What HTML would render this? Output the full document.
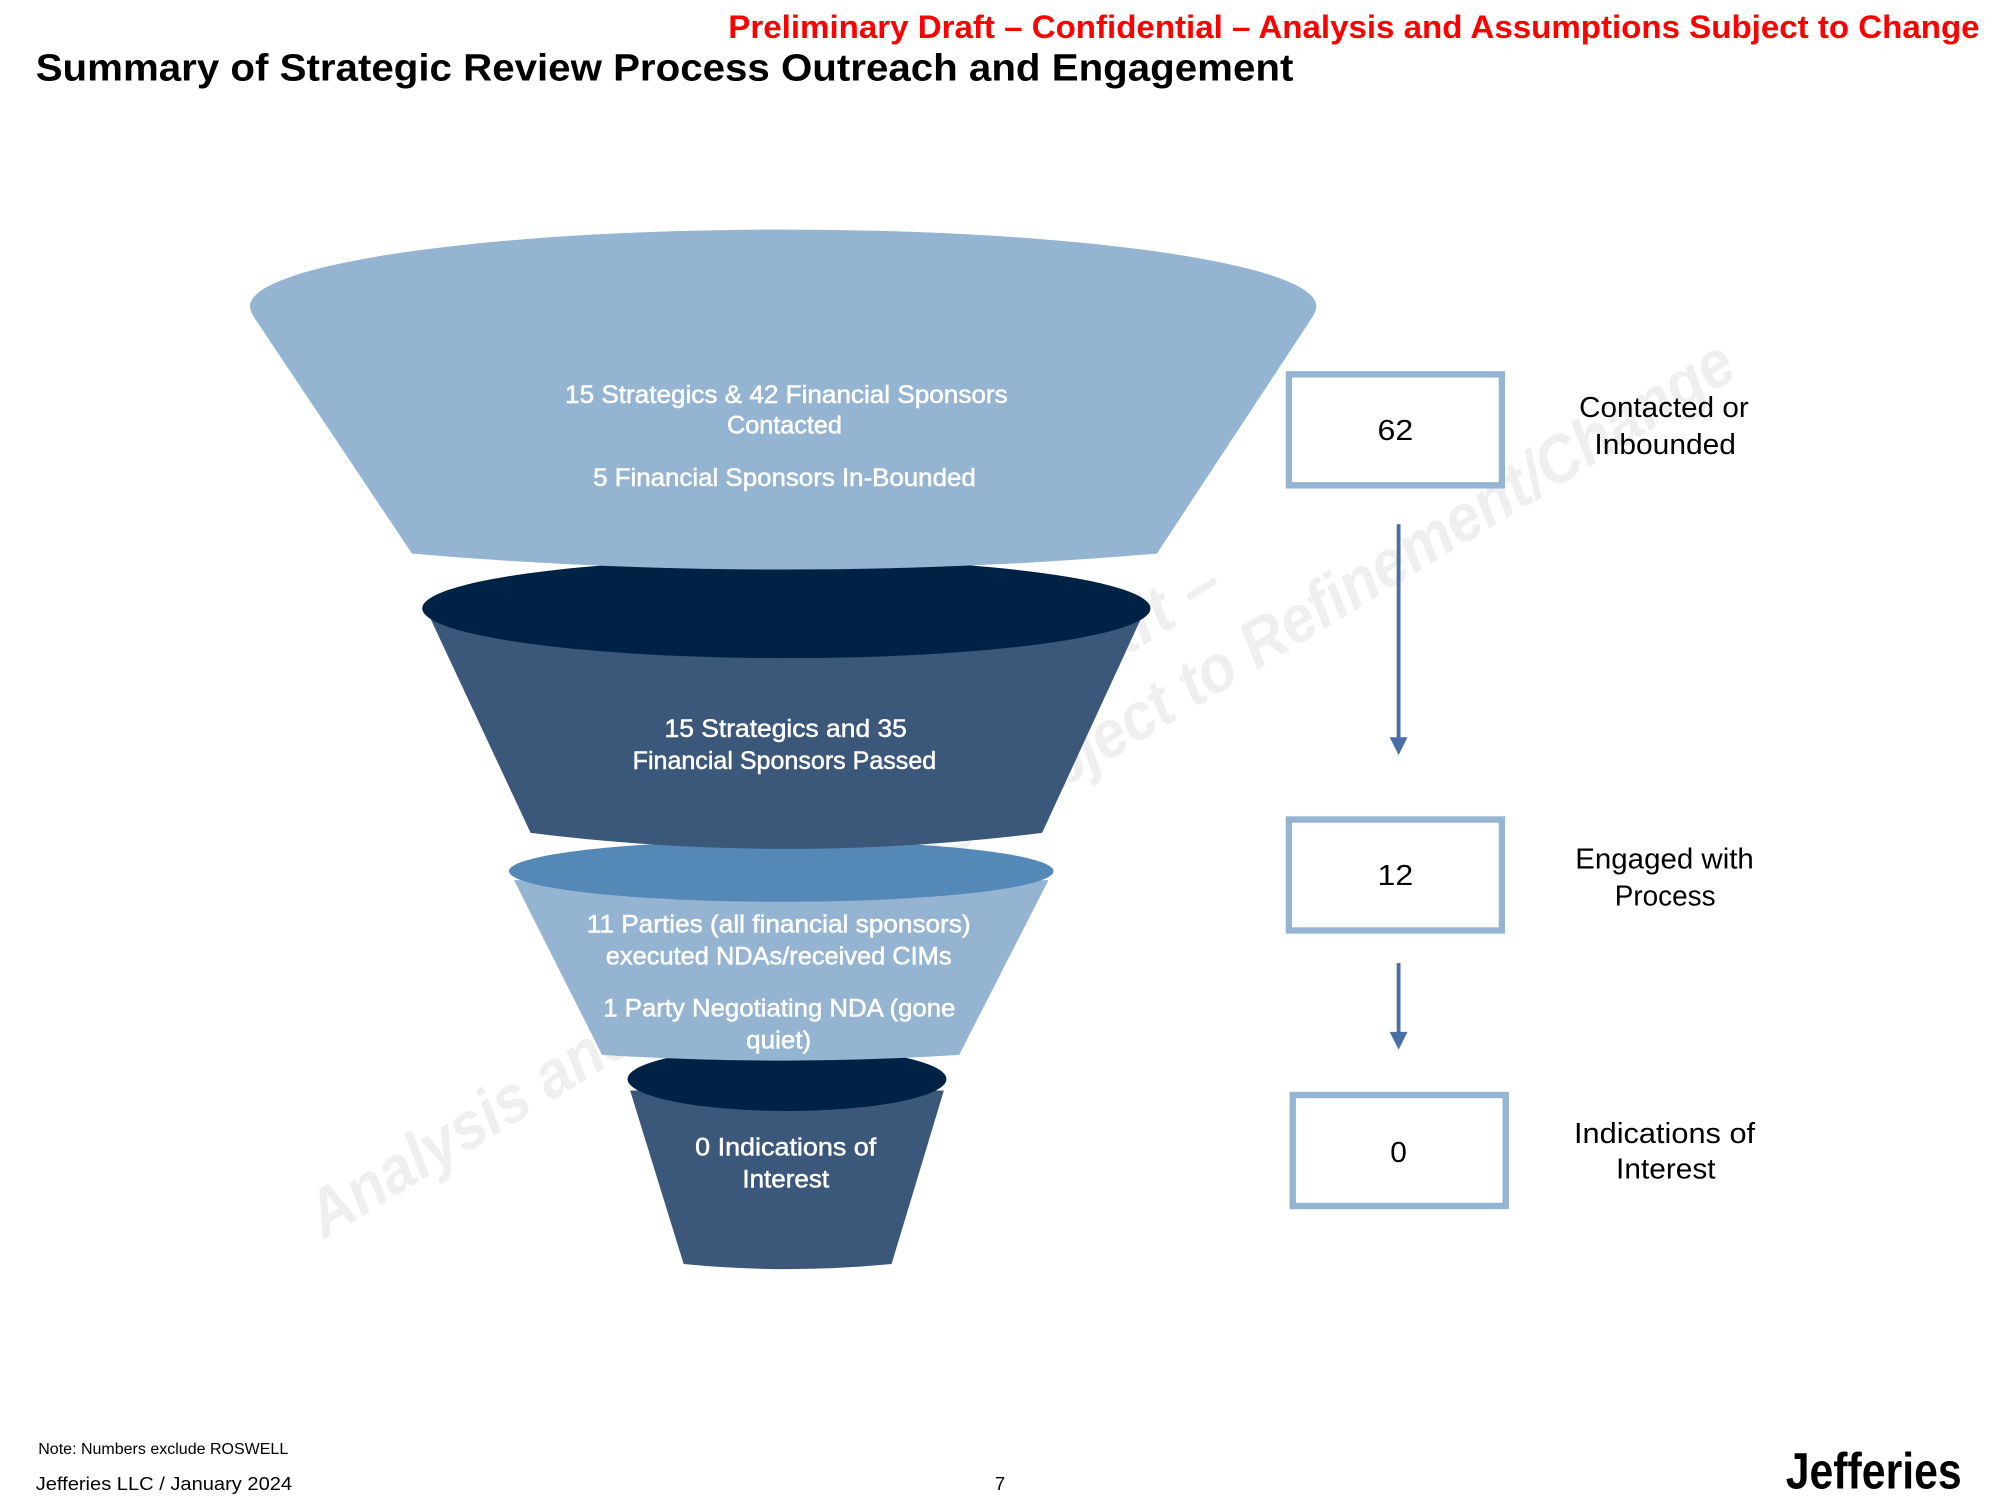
<!DOCTYPE html>
<html lang="en">
<head>
<meta charset="utf-8">
<title>Summary of Strategic Review Process Outreach and Engagement</title>
<style>
html,body{margin:0;padding:0;background:#fff;width:2000px;height:1500px;overflow:hidden}
svg{display:block}
text{font-family:"Liberation Sans",Arial,sans-serif}
.w{fill:#fff;font-size:19.5px;stroke:#fff;stroke-width:.4px}
.k{fill:#000;font-size:22.5px}
.wm{fill:#EFEFEF;font-size:52px;font-weight:bold;font-style:italic}
</style>
</head>
<body>
<svg width="2000" height="1500" viewBox="0 0 1568 1176" preserveAspectRatio="none" xmlns="http://www.w3.org/2000/svg">
<rect width="1568" height="1176" fill="#fff"/>

<!-- watermark -->
<text class="wm" transform="translate(809 633) rotate(-31.4)" text-anchor="middle" textLength="1300" lengthAdjust="spacingAndGlyphs">Analysis and Assumptions Subject to Refinement/Change</text>
<text class="wm" transform="translate(962 466) rotate(-31.4)" text-anchor="end">Preliminary Draft –</text>

<!-- header -->
<text x="571" y="30" font-size="25.5" font-weight="bold" fill="#FF0000" textLength="981" lengthAdjust="spacingAndGlyphs">Preliminary Draft – Confidential – Analysis and Assumptions Subject to Change</text>
<text x="28" y="63" font-size="30" font-weight="bold" fill="#000" textLength="986" lengthAdjust="spacingAndGlyphs">Summary of Strategic Review Process Outreach and Engagement</text>

<!-- funnel 4 -->
<path d="M494 855 L536 991 Q617 999 699 991 L740 855 Z" fill="#3B5779"/>
<ellipse cx="617" cy="846" rx="125" ry="25" fill="#002245"/>
<!-- funnel 3 -->
<path d="M403 690 L472 827 Q612 836 752 827 L822 690 Z" fill="#94B4D2"/>
<ellipse cx="612.500" cy="683" rx="213.500" ry="24" fill="#5388B7"/>
<!-- funnel 2 -->
<path d="M337 484 L416 653 Q616 678 817 653 L895 484 Z" fill="#3B5779"/>
<ellipse cx="616.500" cy="477" rx="285.500" ry="39" fill="#002245"/>
<!-- funnel 1 -->
<path d="M196 240 A418 60 0 0 1 1032 240 Q1032 244 1028 250 L907 434 Q614 459 323 434 L200 250 Q196 244 196 240 Z" fill="#94B4D2"/>

<!-- funnel text -->
<text class="w" x="443" y="316" textLength="347" lengthAdjust="spacingAndGlyphs">15 Strategics &amp; 42 Financial Sponsors</text>
<text class="w" x="570" y="340" textLength="90" lengthAdjust="spacingAndGlyphs">Contacted</text>
<text class="w" x="465" y="381" textLength="300" lengthAdjust="spacingAndGlyphs">5 Financial Sponsors In-Bounded</text>
<text class="w" x="521" y="578" textLength="190" lengthAdjust="spacingAndGlyphs">15 Strategics and 35</text>
<text class="w" x="496" y="603" textLength="238" lengthAdjust="spacingAndGlyphs">Financial Sponsors Passed</text>
<text class="w" x="460" y="731" textLength="301" lengthAdjust="spacingAndGlyphs">11 Parties (all financial sponsors)</text>
<text class="w" x="475" y="756" textLength="271" lengthAdjust="spacingAndGlyphs">executed NDAs/received CIMs</text>
<text class="w" x="473" y="797" textLength="276" lengthAdjust="spacingAndGlyphs">1 Party Negotiating NDA (gone</text>
<text class="w" x="585" y="822" textLength="51" lengthAdjust="spacingAndGlyphs">quiet)</text>
<text class="w" x="545" y="906" textLength="142" lengthAdjust="spacingAndGlyphs">0 Indications of</text>
<text class="w" x="582" y="931" textLength="68" lengthAdjust="spacingAndGlyphs">Interest</text>

<!-- boxes -->
<rect x="1010.500" y="293.500" width="167" height="87" fill="#fff" stroke="#94B4D2" stroke-width="5"/>
<rect x="1010.500" y="642.500" width="167" height="87" fill="#fff" stroke="#94B4D2" stroke-width="5"/>
<rect x="1013.500" y="858.500" width="167" height="87" fill="#fff" stroke="#94B4D2" stroke-width="5"/>
<text class="k" x="1080" y="345" textLength="28" lengthAdjust="spacingAndGlyphs">62</text>
<text class="k" x="1080" y="694" textLength="28" lengthAdjust="spacingAndGlyphs">12</text>
<text class="k" x="1090" y="911" textLength="13" lengthAdjust="spacingAndGlyphs">0</text>

<!-- arrows -->
<path d="M1096.500 411 V580" stroke="#4A6FA5" stroke-width="3" fill="none"/>
<path d="M1089.500 578 H1103.500 L1096.500 592 Z" fill="#4A6FA5"/>
<path d="M1096.500 755 V811" stroke="#4A6FA5" stroke-width="3" fill="none"/>
<path d="M1089.500 809 H1103.500 L1096.500 823 Z" fill="#4A6FA5"/>

<!-- right labels -->
<text class="k" x="1238" y="327" textLength="133" lengthAdjust="spacingAndGlyphs">Contacted or</text>
<text class="k" x="1250" y="356" textLength="111" lengthAdjust="spacingAndGlyphs">Inbounded</text>
<text class="k" x="1235" y="681" textLength="140" lengthAdjust="spacingAndGlyphs">Engaged with</text>
<text class="k" x="1266" y="710" textLength="79" lengthAdjust="spacingAndGlyphs">Process</text>
<text class="k" x="1234" y="896" textLength="142" lengthAdjust="spacingAndGlyphs">Indications of</text>
<text class="k" x="1267" y="924" textLength="78" lengthAdjust="spacingAndGlyphs">Interest</text>

<!-- footer -->
<text x="30" y="1140" font-size="12.500" fill="#000" textLength="196" lengthAdjust="spacingAndGlyphs">Note: Numbers exclude ROSWELL</text>
<text x="28" y="1168" font-size="14.500" fill="#000" textLength="201" lengthAdjust="spacingAndGlyphs">Jefferies LLC / January 2024</text>
<text x="780" y="1168" font-size="14.500" fill="#000" textLength="8" lengthAdjust="spacingAndGlyphs">7</text>
<text x="1400" y="1167" font-size="40" font-weight="bold" fill="#000" textLength="138" lengthAdjust="spacingAndGlyphs">Jefferies</text>
</svg>
</body>
</html>
